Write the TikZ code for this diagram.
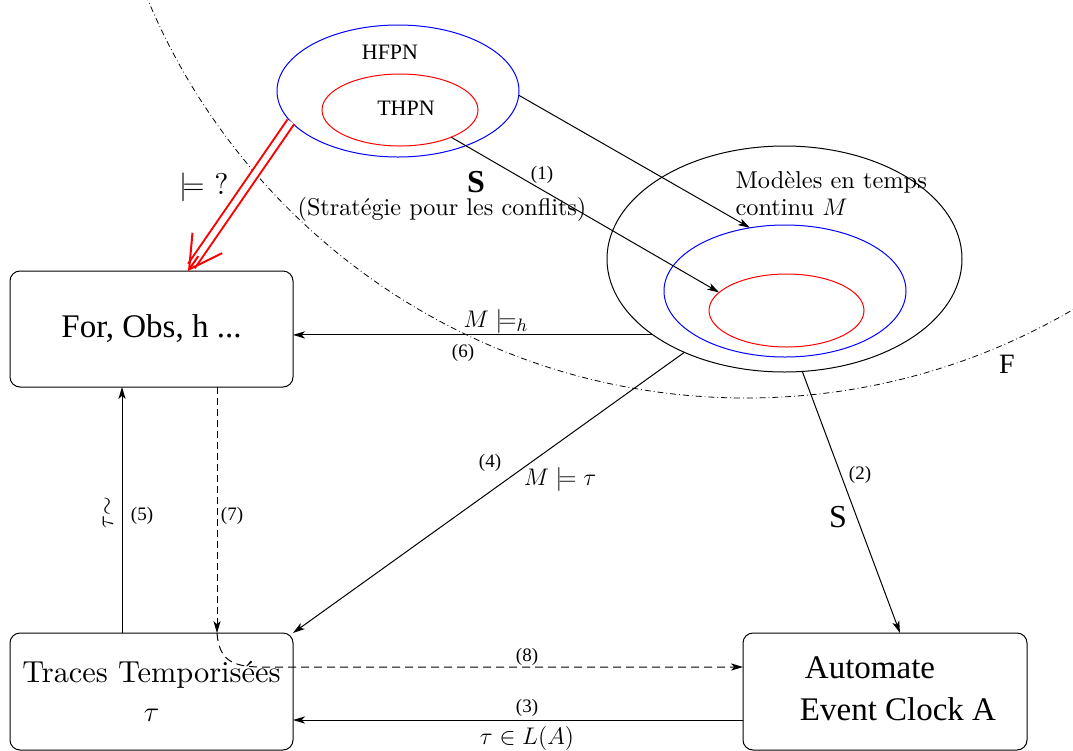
\documentclass[tikz,border=0pt]{standalone}
\usepackage{fontspec}
\setmainfont{lmroman10-regular.otf}[BoldFont=lmroman10-bold.otf, ItalicFont=lmroman10-italic.otf]
\newfontfamily\tms{Liberation Serif}
\usetikzlibrary{shapes.geometric,arrows.meta,calc}

\begin{document}
\begin{tikzpicture}[x=0.5pt, y=-0.5pt, line width=0.5pt,
  >={Stealth[length=6pt,width=3.6pt,inset=1.6pt]},
  boite/.style={draw, rounded corners=5pt, inner sep=0pt, outer sep=0pt, align=center},
  ens/.style={ellipse, draw, inner sep=0pt, outer sep=0pt},
  num/.style={font=\tms\fontsize{9.5}{11}\selectfont, inner sep=0pt},
  grand/.style={font=\fontsize{13}{15}\selectfont, inner sep=0pt}]
\useasboundingbox (0,0) rectangle (1073,751);

% frontiere F
\begin{scope}
\clip (0,0) rectangle (1073,751);
\draw[line width=0.4pt, dash pattern=on 3pt off 1.5pt on 0.4pt off 1.5pt] (746,-250) circle[radius=648];
\end{scope}

% ensembles
\node[ens, draw=blue, minimum width=121pt, minimum height=66pt] (hfpn) at (398,91) {};
\node[ens, draw=red, minimum width=78pt, minimum height=36pt] (thpn) at (400,110) {};
\node[ens, minimum width=177.5pt, minimum height=113pt] (mbig) at (784.5,259) {};
\node[ens, draw=blue, minimum width=121pt, minimum height=66pt] (mblue) at (785,291) {};
\node[ens, draw=red, minimum width=77.5pt, minimum height=36.5pt] (mred) at (786.5,310.5) {};

% boites
\node[boite, minimum width=141.5pt, minimum height=58pt, font=\tms\fontsize{16.5}{19}\selectfont] (for) at (151.5,329) {For, Obs, h ...};
\node[boite, minimum width=141.5pt, minimum height=58.5pt, font=\fontsize{15.2}{19.5}\selectfont] (traces) at (151.5,691.5) {Traces Temporisées\\[0pt]$\tau$};
\node[boite, minimum width=142pt, minimum height=58.5pt] (auto) at (885,691.5) {};
\node[align=left, inner sep=0pt, font=\tms\fontsize{16.5}{21}\selectfont] (autotxt) at (898,689) {\hspace*{2.5pt}Automate\\Event Clock A};

% textes
\node[inner sep=0pt, font=\tms\fontsize{11}{13}\selectfont] (thfpn) at (390,52) {HFPN};
\node[inner sep=0pt, font=\tms\fontsize{11}{13}\selectfont] (tthpn) at (406,108) {THPN};
\node[inner sep=0pt, font=\tms\bfseries\fontsize{16}{18}\selectfont] (s1) at (476,182) {S};
\node[num] (n1) at (542,175) {(1)};
\node[inner sep=0pt, font=\fontsize{12.1}{14}\selectfont] (strat) at (442,209) {(Stratégie pour les conflits)};
\node[inner sep=0pt, font=\fontsize{15}{17}\selectfont] (q) at (204,187) {$\models$ ?};
\node[anchor=north west, align=left, inner sep=0pt, font=\fontsize{12.2}{13.5}\selectfont] (mtxt) at (735,171) {Modèles en temps\\continu $M$};
\node[grand] (mh) at (496,321) {$M \models_h$};
\node[num] (n6) at (463,353) {(6)};
\node[num] (n4) at (490,463) {(4)};
\node[grand] (mt) at (560,479) {$M \models \tau$};
\node[num] (n2) at (860,475) {(2)};
\node[inner sep=0pt, font=\tms\fontsize{16}{18}\selectfont] (s2) at (838,517) {S};
\node[num] (n5) at (142,516) {(5)};
\node[rotate=90, inner sep=0pt, font=\fontsize{12}{14}\selectfont] (tt) at (108,513) {$\tau\mathord{\sim}$};
\node[num] (n7) at (232,516) {(7)};
\node[num] (n8) at (527,657) {(8)};
\node[num] (n3) at (527,708) {(3)};
\node[grand] (tl) at (527,738) {$\tau \in L(A)$};
\node[inner sep=0pt, font=\tms\fontsize{14}{16}\selectfont] (fl) at (1007,364) {F};

% fleches
\draw[red, line width=1pt, double=white, double distance=3pt, shorten >=3pt] (hfpn.196) -- ([xshift=18.25pt]for.north);
\draw[red, line width=1pt, -{Straight Barb[length=16pt,width=18pt]}] ($([xshift=18.25pt]for.north)!0.1!(hfpn.196)$) -- ([xshift=18.25pt]for.north);
\draw[->] (hfpn.-2) -- (mblue.119);
\draw[->] (thpn.-28) -- (mred.165);
\draw[->] (mbig.210) -- (mbig.210 -| for.east);
\draw[->] (mbig.223) -- (traces.north east);
\draw[->] (mbig.-81) -- ([xshift=7.5pt]auto.north);
\draw[->] ([xshift=-14.75pt]traces.north) -- ([xshift=-14.75pt]for.south);
\draw[->, dash pattern=on 3.5pt off 2pt] ([xshift=32.75pt]for.south) -- ([xshift=32.75pt]traces.north);
\coordinate (c8) at (217,633);
\draw[->, dash pattern=on 4pt off 2.5pt] (c8) .. controls (219,660) and (232,667) .. (262,667) -- ([yshift=12.25pt]auto.west);
\draw[->] ([yshift=-14.25pt]auto.west) -- ([yshift=-14.25pt]traces.east);
\end{tikzpicture}
\end{document}
